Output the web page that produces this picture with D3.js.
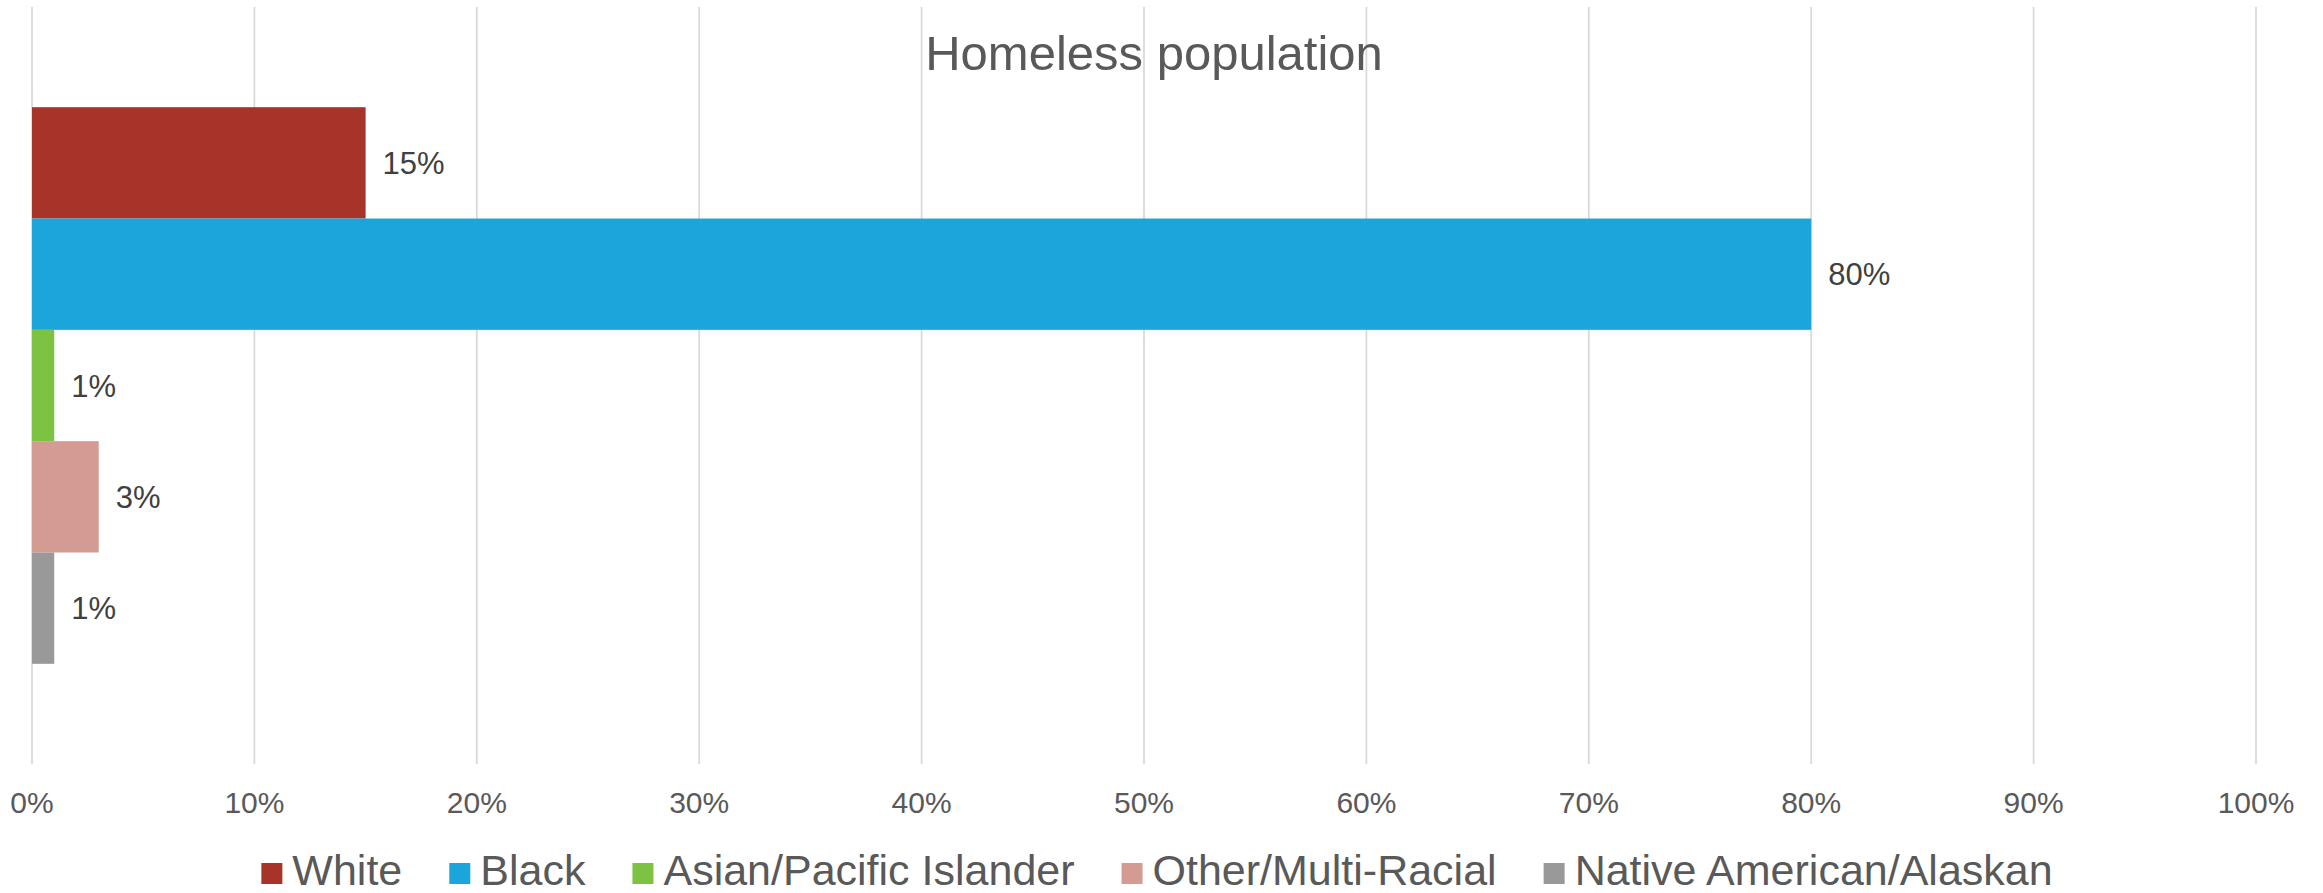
<!DOCTYPE html>
<html>
<head>
<meta charset="utf-8">
<script src="https://cdn.jsdelivr.net/npm/d3@7"></script>
<style>
  html, body { margin: 0; padding: 0; background: #fff; }
  svg { display: block; font-family: Arial, "Liberation Sans", sans-serif; }
</style>
</head>
<body>
<svg id="chart"></svg>
<script>
"use strict"

// data
const title = "Homeless population"
const series = ["White", "Black", "Asian/Pacific Islander", "Other/Multi-Racial", "Native American/Alaskan"]
const values = [0.15, 0.80, 0.01, 0.03, 0.01]
const colors = ["#A63428", "#1BA5DB", "#7DC242", "#D49B93", "#999999"]
const ticks = [0, 0.1, 0.2, 0.3, 0.4, 0.5, 0.6, 0.7, 0.8, 0.9, 1.0]

document.addEventListener("DOMContentLoaded", () => {
    const W = 2323, H = 893
    const svg = d3.select("#chart").attr("width", W).attr("height", H)

    const plot = { left: 32, right: 2256, top: 7, bottom: 764 }

    const x = d3.scaleLinear().domain([0, 1]).range([plot.left, plot.right])
    // one category, five series: excel gap width 180%
    const y = d3.scaleBand().domain(series).range([plot.top, plot.bottom])
        .paddingInner(0).paddingOuter(0.9)

    // gridlines
    svg.append("g")
        .selectAll("line")
        .data(ticks)
        .join("line")
        .attr("x1", d => x(d)).attr("x2", d => x(d))
        .attr("y1", plot.top).attr("y2", plot.bottom)
        .attr("stroke", "#D9D9D9")
        .attr("stroke-width", 1.8)

    // x axis labels
    const fmt = d3.format(".0%")
    svg.append("g")
        .selectAll("text")
        .data(ticks)
        .join("text")
        .attr("x", d => x(d))
        .attr("y", 813)
        .attr("text-anchor", "middle")
        .attr("font-size", 30)
        .attr("fill", "#595959")
        .text(d => fmt(d))

    // bars
    svg.append("g")
        .selectAll("rect")
        .data(series)
        .join("rect")
        .attr("x", x(0))
        .attr("y", d => y(d))
        .attr("width", (d, i) => x(values[i]) - x(0))
        .attr("height", y.bandwidth())
        .attr("fill", (d, i) => colors[i])

    // data labels
    svg.append("g")
        .selectAll("text")
        .data(series)
        .join("text")
        .attr("x", (d, i) => x(values[i]) + 17)
        .attr("y", d => y(d) + y.bandwidth() / 2 + 11)
        .attr("font-size", 31)
        .attr("fill", "#404040")
        .text((d, i) => fmt(values[i]))

    // title
    svg.append("text")
        .attr("x", 1154)
        .attr("y", 70)
        .attr("text-anchor", "middle")
        .attr("font-size", 49)
        .attr("fill", "#595959")
        .text(title)

    // legend
    const legend = svg.append("g")
    const sw = 21, gapText = 10, gapItem = 47
    let cx = 0
    series.forEach((s, i) => {
        const g = legend.append("g").attr("transform", `translate(${cx},0)`)
        g.append("rect")
            .attr("x", 0).attr("y", 863)
            .attr("width", sw).attr("height", sw)
            .attr("fill", colors[i])
        const t = g.append("text")
            .attr("x", sw + gapText)
            .attr("y", 885)
            .attr("font-size", 43)
            .attr("fill", "#595959")
            .text(s)
        cx += sw + gapText + t.node().getComputedTextLength() + gapItem
    })
    const total = cx - gapItem
    legend.attr("transform", `translate(${1157 - total / 2},0)`)
})
</script>
</body>
</html>
